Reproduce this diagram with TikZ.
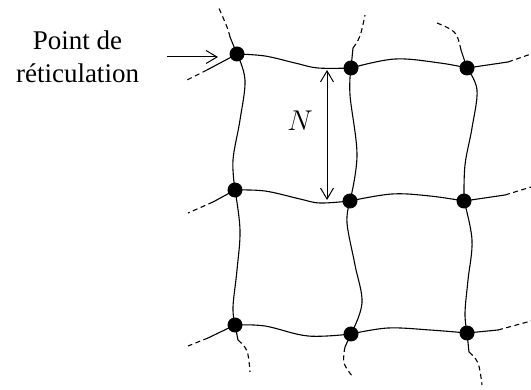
\documentclass[tikz,border=0pt]{standalone}
\usepackage{fontspec}
\setmainfont{Liberation Serif}
\usetikzlibrary{arrows.meta}
\begin{document}
\begin{tikzpicture}[x=1pt,y=-1pt,line width=1.1pt,
  dot/.style={circle,fill=black,inner sep=0pt,minimum size=15pt},
  chain/.style={smooth,tension=0.6},
  stub/.style={dash pattern=on 5pt off 3.5pt},
  openarrow/.style={-{Straight Barb[length=11pt,width=13pt,line width=1pt]}},
  openarrows/.style={{Straight Barb[length=11pt,width=13pt,line width=1pt]}-{Straight Barb[length=11pt,width=13pt,line width=1pt]}}]
\useasboundingbox (0,0) rectangle (531,390);
% cross-link points
\node[dot] (A1) at (237,54) {};
\node[dot] (B1) at (351,68) {};
\node[dot] (C1) at (467,68) {};
\node[dot] (A2) at (235,190) {};
\node[dot] (B2) at (350,201) {};
\node[dot] (C2) at (464,201) {};
\node[dot] (A3) at (235,325) {};
\node[dot] (B3) at (351,334) {};
\node[dot] (C3) at (467,333) {};
% horizontal chains
\draw plot[chain] coordinates {(A1.center) (265,56) (295,63) (318,68) (B1.center)};
\draw plot[chain] coordinates {(B1.center) (395,59) (440,63) (C1.center)};
\draw plot[chain] coordinates {(A2.center) (265,191) (300,199) (320,203) (B2.center)};
\draw plot[chain] coordinates {(B2.center) (392,194) (430,196) (C2.center)};
\draw plot[chain] coordinates {(A3.center) (265,326) (308,336) (B3.center)};
\draw plot[chain] coordinates {(B3.center) (388,328) (430,330) (C3.center)};
% vertical chains
\draw plot[chain] coordinates {(A1.center) (245,80) (240,120) (233,160) (A2.center)};
\draw plot[chain] coordinates {(A2.center) (240,230) (237,270) (233,307) (A3.center)};
\draw plot[chain] coordinates {(B1.center) (350,95) (357,155) (B2.center)};
\draw plot[chain] coordinates {(B2.center) (347,223) (355,265) (362,303) (B3.center)};
\draw plot[chain] coordinates {(C1.center) (477,90) (472,128) (465,165) (C2.center)};
\draw plot[chain] coordinates {(C2.center) (472,240) (468,280) (465,313) (C3.center)};
% stubs: solid part then dashed continuation
\coordinate (a1t) at (230,37);
\draw (A1.center) -- (a1t);
\draw[stub] plot[chain] coordinates {(a1t) (227,27) (218,6)};
\coordinate (a1l) at (207,70);
\draw (A1.center) -- (a1l);
\draw[stub] (a1l) -- (187,80);
\coordinate (b1t) at (353,48);
\draw (B1.center) -- (b1t);
\draw[stub] plot[chain] coordinates {(b1t) (360,36) (365,15)};
\coordinate (c1t) at (461,50);
\draw (C1.center) -- (c1t);
\draw[stub] plot[chain] coordinates {(c1t) (457,36) (450,29) (437,23)};
\coordinate (c1r) at (508,62);
\draw (C1.center) -- (c1r);
\draw[stub] (c1r) -- (531,54);
\coordinate (a2l) at (213,202);
\draw (A2.center) -- (a2l);
\draw[stub] (a2l) -- (188,213);
\coordinate (c2r) at (505,195);
\draw (C2.center) -- (c2r);
\draw[stub] (c2r) -- (531,187);
\coordinate (a3l) at (208,338);
\draw (A3.center) -- (a3l);
\draw[stub] (a3l) -- (188,346);
\coordinate (a3b) at (238,340);
\draw (A3.center) -- (a3b);
\draw[stub] plot[chain] coordinates {(a3b) (247,351) (250,372)};
\coordinate (b3b) at (345,347);
\draw (B3.center) -- (b3b);
\draw[stub] plot[chain] coordinates {(b3b) (344,363) (353,377)};
\coordinate (c3b) at (469,352);
\draw (C3.center) -- (c3b);
\draw[stub] plot[chain] coordinates {(c3b) (478,363) (482,385)};
\coordinate (c3r) at (498,330);
\draw (C3.center) -- (c3r);
\draw[stub] (c3r) -- (531,321);
% label and arrow
\node[font=\fontsize{27}{33}\selectfont,align=center,inner sep=0pt,anchor=base] (lbl) at (77.5,83) {Point de\\réticulation};
\coordinate (arS) at (167,57);
\coordinate (arE) at (218,57);
\draw[openarrow,line width=1pt] (arS) -- (arE);
% N dimension
\coordinate (nT) at (327,70);
\coordinate (nB) at (327,200);
\draw[openarrows,line width=1pt] (nT) -- (nB);
\node[font=\fontsize{24.88}{30}\selectfont,inner sep=0pt,scale=1.15] (N) at (300,121) {$N$};
\end{tikzpicture}
\end{document}
